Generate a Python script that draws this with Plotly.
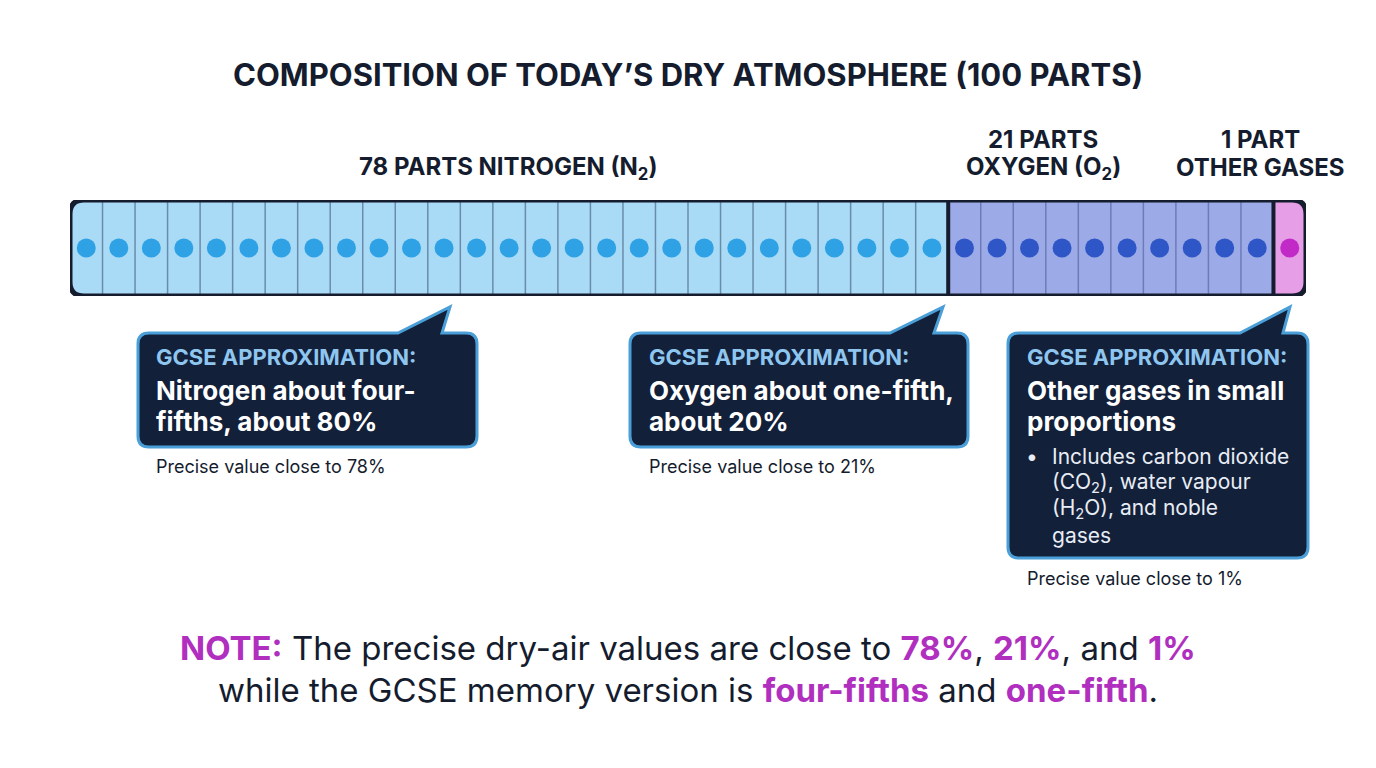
import plotly.graph_objects as go

# ---------------- data ----------------
groups = ["Nitrogen", "Oxygen", "Other gases"]
parts = [78, 21, 1]                 # parts per 100 of dry air
cells = [27, 10, 1]                 # number of drawn cells per group
top_labels = ["78 PARTS NITROGEN (N<sub>2</sub>)",
              "21 PARTS<br>OXYGEN (O<sub>2</sub>)",
              "1 PART<br>OTHER GASES"]
callout_heads = ["GCSE APPROXIMATION:"] * 3
callout_bodies = ["Nitrogen about four-<br>fifths, about 80%",
                  "Oxygen about one-fifth,<br>about 20%",
                  "Other gases in small<br>proportions"]
precise_notes = ["Precise value close to 78%",
                 "Precise value close to 21%",
                 "Precise value close to 1%"]
bullet_text = ("Includes carbon dioxide<br>(CO<sub>2</sub>), water vapour<br>"
               "(H<sub>2</sub>O), and noble<br>gases")
title_text = "COMPOSITION OF TODAY\u2019S DRY ATMOSPHERE (100 PARTS)"

# ---------------- style ----------------
OFF = 8                      # default page body margin
FW, FH = 1360, 752
FONT = "Inter"
DARK = "#141c2e"
cell_fill = ["#a9daf6", "#9caae7", "#e69ee6"]
dot_col = ["#2ea2e4", "#2f56c6", "#c22ac8"]
div_col = ["#6a8cab", "#6d7cb8", "#9a5aa0"]
MAG = "#b02fbf"
BOX_FILL = "#132039"
BOX_LINE = "#4a9fd9"
HEAD_COL = "#8fc6ef"
BULLET_COL = "#e8edf5"

def X(px):
    return (px - OFF) / FW

def Y(py):
    return 1 - (py - OFF) / FH

total = sum(cells)
bounds = [0]
for c in cells:
    bounds.append(bounds[-1] + c)

fig = go.Figure()

bar_x0, bar_x1, bar_y0, bar_y1 = 70, 1306, 200, 296
cell_px = (bar_x1 - bar_x0) / total
rx = 14 / cell_px
ry = 14 / (bar_y1 - bar_y0)

shapes = []
for g in range(len(cells)):
    a, b = bounds[g], bounds[g + 1]
    if g == 0:
        p = (f"M {a+rx},0 L {b},0 L {b},1 L {a+rx},1 Q {a},1 {a},{1-ry} "
             f"L {a},{ry} Q {a},0 {a+rx},0 Z")
    elif g == len(cells) - 1:
        p = (f"M {a},0 L {b-rx},0 Q {b},0 {b},{ry} L {b},{1-ry} "
             f"Q {b},1 {b-rx},1 L {a},1 Z")
    else:
        p = f"M {a},0 L {b},0 L {b},1 L {a},1 Z"
    shapes.append(dict(type="path", xref="x", yref="y", path=p,
                       fillcolor=cell_fill[g], line=dict(width=0), layer="below"))

for g in range(len(cells)):
    a, b = bounds[g], bounds[g + 1]
    xs, ys = [], []
    for i in range(a + 1, b):
        xs += [i, i, None]
        ys += [0, 1, None]
    if xs:
        fig.add_trace(go.Scatter(x=xs, y=ys, mode="lines",
                                 line=dict(color=div_col[g], width=1.5),
                                 hoverinfo="skip", showlegend=False))
    centers = [i + 0.5 for i in range(a, b)]
    fig.add_trace(go.Scatter(x=centers, y=[0.5] * len(centers), mode="markers",
                             marker=dict(size=19, color=dot_col[g]),
                             name=groups[g], showlegend=False,
                             hovertemplate=f"{groups[g]}: {parts[g]} parts<extra></extra>"))

for g in range(1, len(cells)):
    shapes.append(dict(type="line", xref="x", yref="y", x0=bounds[g], x1=bounds[g],
                       y0=0, y1=1, line=dict(color=DARK, width=4), layer="above"))

a, b = 0, total
outline = (f"M {a+rx},0 L {b-rx},0 Q {b},0 {b},{ry} L {b},{1-ry} Q {b},1 {b-rx},1 "
           f"L {a+rx},1 Q {a},1 {a},{1-ry} L {a},{ry} Q {a},0 {a+rx},0 Z")
shapes.append(dict(type="path", xref="x", yref="y", path=outline,
                   line=dict(color=DARK, width=5), fillcolor="rgba(0,0,0,0)",
                   layer="above"))

def callout(l, t, r, b, tbl, tbr, tipx, tipy, rad=11):
    pts = [
        ("M", [(l + rad, t)]), ("L", [(tbl, t)]), ("L", [(tipx, tipy)]),
        ("L", [(tbr, t)]), ("L", [(r - rad, t)]), ("Q", [(r, t), (r, t + rad)]),
        ("L", [(r, b - rad)]), ("Q", [(r, b), (r - rad, b)]),
        ("L", [(l + rad, b)]), ("Q", [(l, b), (l, b - rad)]),
        ("L", [(l, t + rad)]), ("Q", [(l, t), (l + rad, t)]),
    ]
    s = ""
    for cmd, ps in pts:
        s += cmd + " " + " ".join(f"{X(px):.5f},{Y(py):.5f}" for px, py in ps) + " "
    return s + "Z"

boxes = [
    dict(l=138, t=333, r=477, b=447, tbl=398, tbr=442, tipx=450, tipy=307, tx=154),
    dict(l=630, t=333, r=968, b=447, tbl=890, tbr=934, tipx=943, tipy=307, tx=647),
    dict(l=1008, t=333, r=1308, b=558, tbl=1240, tbr=1283, tipx=1290, tipy=307, tx=1025),
]
for bx in boxes:
    shapes.append(dict(type="path", xref="paper", yref="paper",
                       path=callout(bx["l"], bx["t"], bx["r"], bx["b"], bx["tbl"],
                                    bx["tbr"], bx["tipx"], bx["tipy"]),
                       fillcolor=BOX_FILL, line=dict(color=BOX_LINE, width=3),
                       layer="above"))

ann = []

def text_lines(txt, px, py_first, spacing, size, color, anchor, bold=False):
    for k, line in enumerate(txt.split("<br>")):
        t = f"<b>{line}</b>" if bold else line
        ann.append(dict(text=t, x=X(px), y=Y(py_first + k * spacing), xref="paper",
                        yref="paper", showarrow=False, xanchor=anchor,
                        yanchor="middle", align=anchor if anchor != "center" else "center",
                        font=dict(family=FONT, size=size, color=color)))

text_lines(title_text, 688, 75, 0, 31, DARK, "center", bold=True)

label_pos = [(508, 168), (1043, 140), (1260, 140)]
for txt, (px, py) in zip(top_labels, label_pos):
    text_lines(txt, px, py, 28, 24, DARK, "center", bold=True)

precise_y = [466, 466, 578]
for i, bx in enumerate(boxes):
    text_lines(callout_heads[i], bx["tx"], 357, 0, 22, HEAD_COL, "left", bold=True)
    text_lines(callout_bodies[i], bx["tx"], 390, 31, 26, "#ffffff", "left", bold=True)
    text_lines(precise_notes[i], bx["tx"], precise_y[i], 0, 18, DARK, "left")

text_lines("\u2022", 1024, 457, 0, 21, BULLET_COL, "left")
text_lines(bullet_text, 1050, 457, 26, 21, BULLET_COL, "left")

def m(s):
    return f"<b><span style='color:{MAG}'>{s}</span></b>"

note_lines = [
    f"{m('NOTE:')} The precise dry-air values are close to {m('78%')}, "
    f"{m('21%')}, and {m('1%')}",
    f"while the GCSE memory version is {m('four-fifths')} and {m('one-fifth')}.",
]
for k, line in enumerate(note_lines):
    ann.append(dict(text=line, x=X(688), y=Y(648 + 42 * k), xref="paper",
                    yref="paper", showarrow=False, xanchor="center",
                    yanchor="middle", font=dict(family=FONT, size=33, color=DARK)))

fig.update_layout(
    width=FW, height=FH,
    margin=dict(l=0, r=0, t=0, b=0),
    paper_bgcolor="white", plot_bgcolor="rgba(0,0,0,0)",
    xaxis=dict(domain=[X(bar_x0), X(bar_x1)], range=[0, total], visible=False,
               fixedrange=True),
    yaxis=dict(domain=[Y(bar_y1), Y(bar_y0)], range=[1, 0], visible=False,
               fixedrange=True),
    shapes=shapes, annotations=ann, showlegend=False,
)

fig.write_html("out.html")
